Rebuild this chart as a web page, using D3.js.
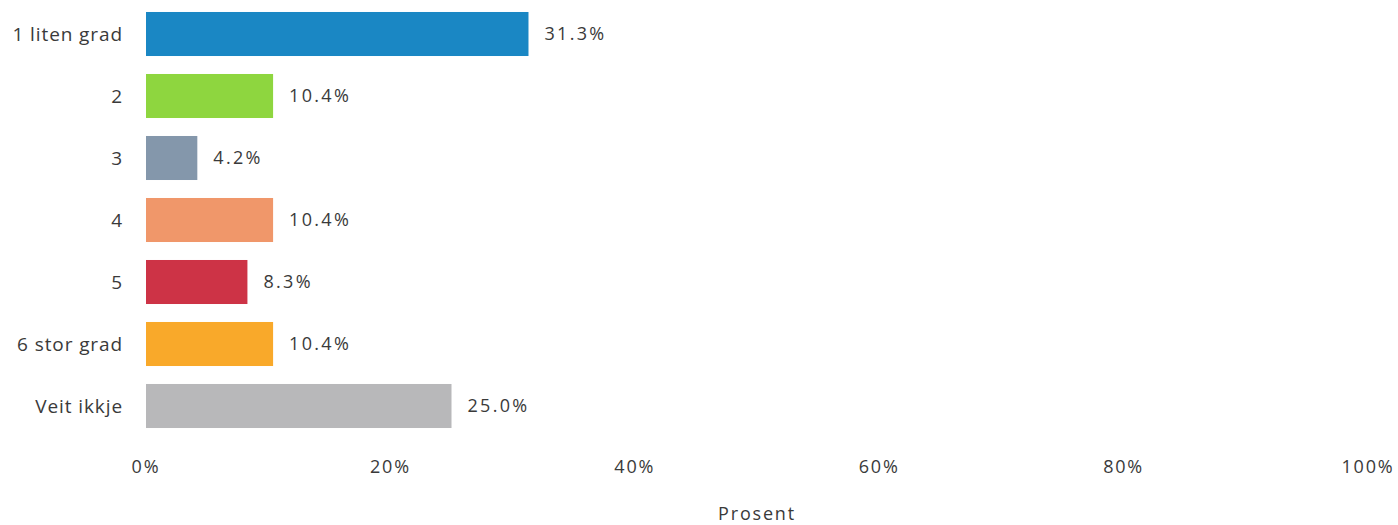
<!DOCTYPE html>
<html><head><meta charset="utf-8">
<script src="https://cdn.jsdelivr.net/npm/d3@7"></script>
<style>body{margin:0;background:#fff;} text{font-family:"Open Sans",sans-serif;}</style>
</head><body>
<svg id="c" width="1398" height="525"></svg>
<script>
const categories = ["1 liten grad","2","3","4","5","6 stor grad","Veit ikkje"];
const values = [31.3,10.4,4.2,10.4,8.3,10.4,25.0];
const colors = ["#1a87c4","#8ed63f","#8497ab","#f0976a","#cd3346","#f9a92a","#b8b8ba"];
const ticks = [0,20,40,60,80,100];
const axisTitle = "Prosent";

const svg = d3.select("#c");
const x = d3.scaleLinear().domain([0,100]).range([146,1368]);
const y = d3.scaleBand().domain(categories).range([3,437]).paddingInner(0.29).paddingOuter(0.145);

svg.selectAll("rect.bar").data(values).join("rect")
  .attr("x", x(0)).attr("y",(d,i)=>y(categories[i]))
  .attr("width", d=>x(d)-x(0)).attr("height", y.bandwidth())
  .attr("fill",(d,i)=>colors[i]);

svg.selectAll("text.val").data(values).join("text")
  .attr("x", d=>x(d)+16).attr("y",(d,i)=>y(categories[i])+y.bandwidth()/2)
  .attr("dy","0.35em").attr("font-size",18).attr("letter-spacing","2.3px").attr("fill","#3a3a3a")
  .text(d=>d.toFixed(1)+"%");

svg.selectAll("text.cat").data(categories).join("text")
  .attr("x",123).attr("y",d=>y(d)+y.bandwidth()/2).attr("dy","0.35em")
  .attr("text-anchor","end").attr("font-size",19).attr("letter-spacing","0.9px").attr("fill","#3a3a3a").text(d=>d);

svg.selectAll("text.tick").data(ticks).join("text")
  .attr("x",d=>x(d)).attr("y",467).attr("dy","0.35em")
  .attr("text-anchor","middle").attr("font-size",18).attr("letter-spacing","1.8px").attr("fill","#3a3a3a").text(d=>d+"%");

svg.append("text").attr("x",757).attr("y",514).attr("dy","0.35em")
  .attr("text-anchor","middle").attr("font-size",18).attr("letter-spacing","1.8px").attr("fill","#3a3a3a").text(axisTitle);
</script>
</body></html>
